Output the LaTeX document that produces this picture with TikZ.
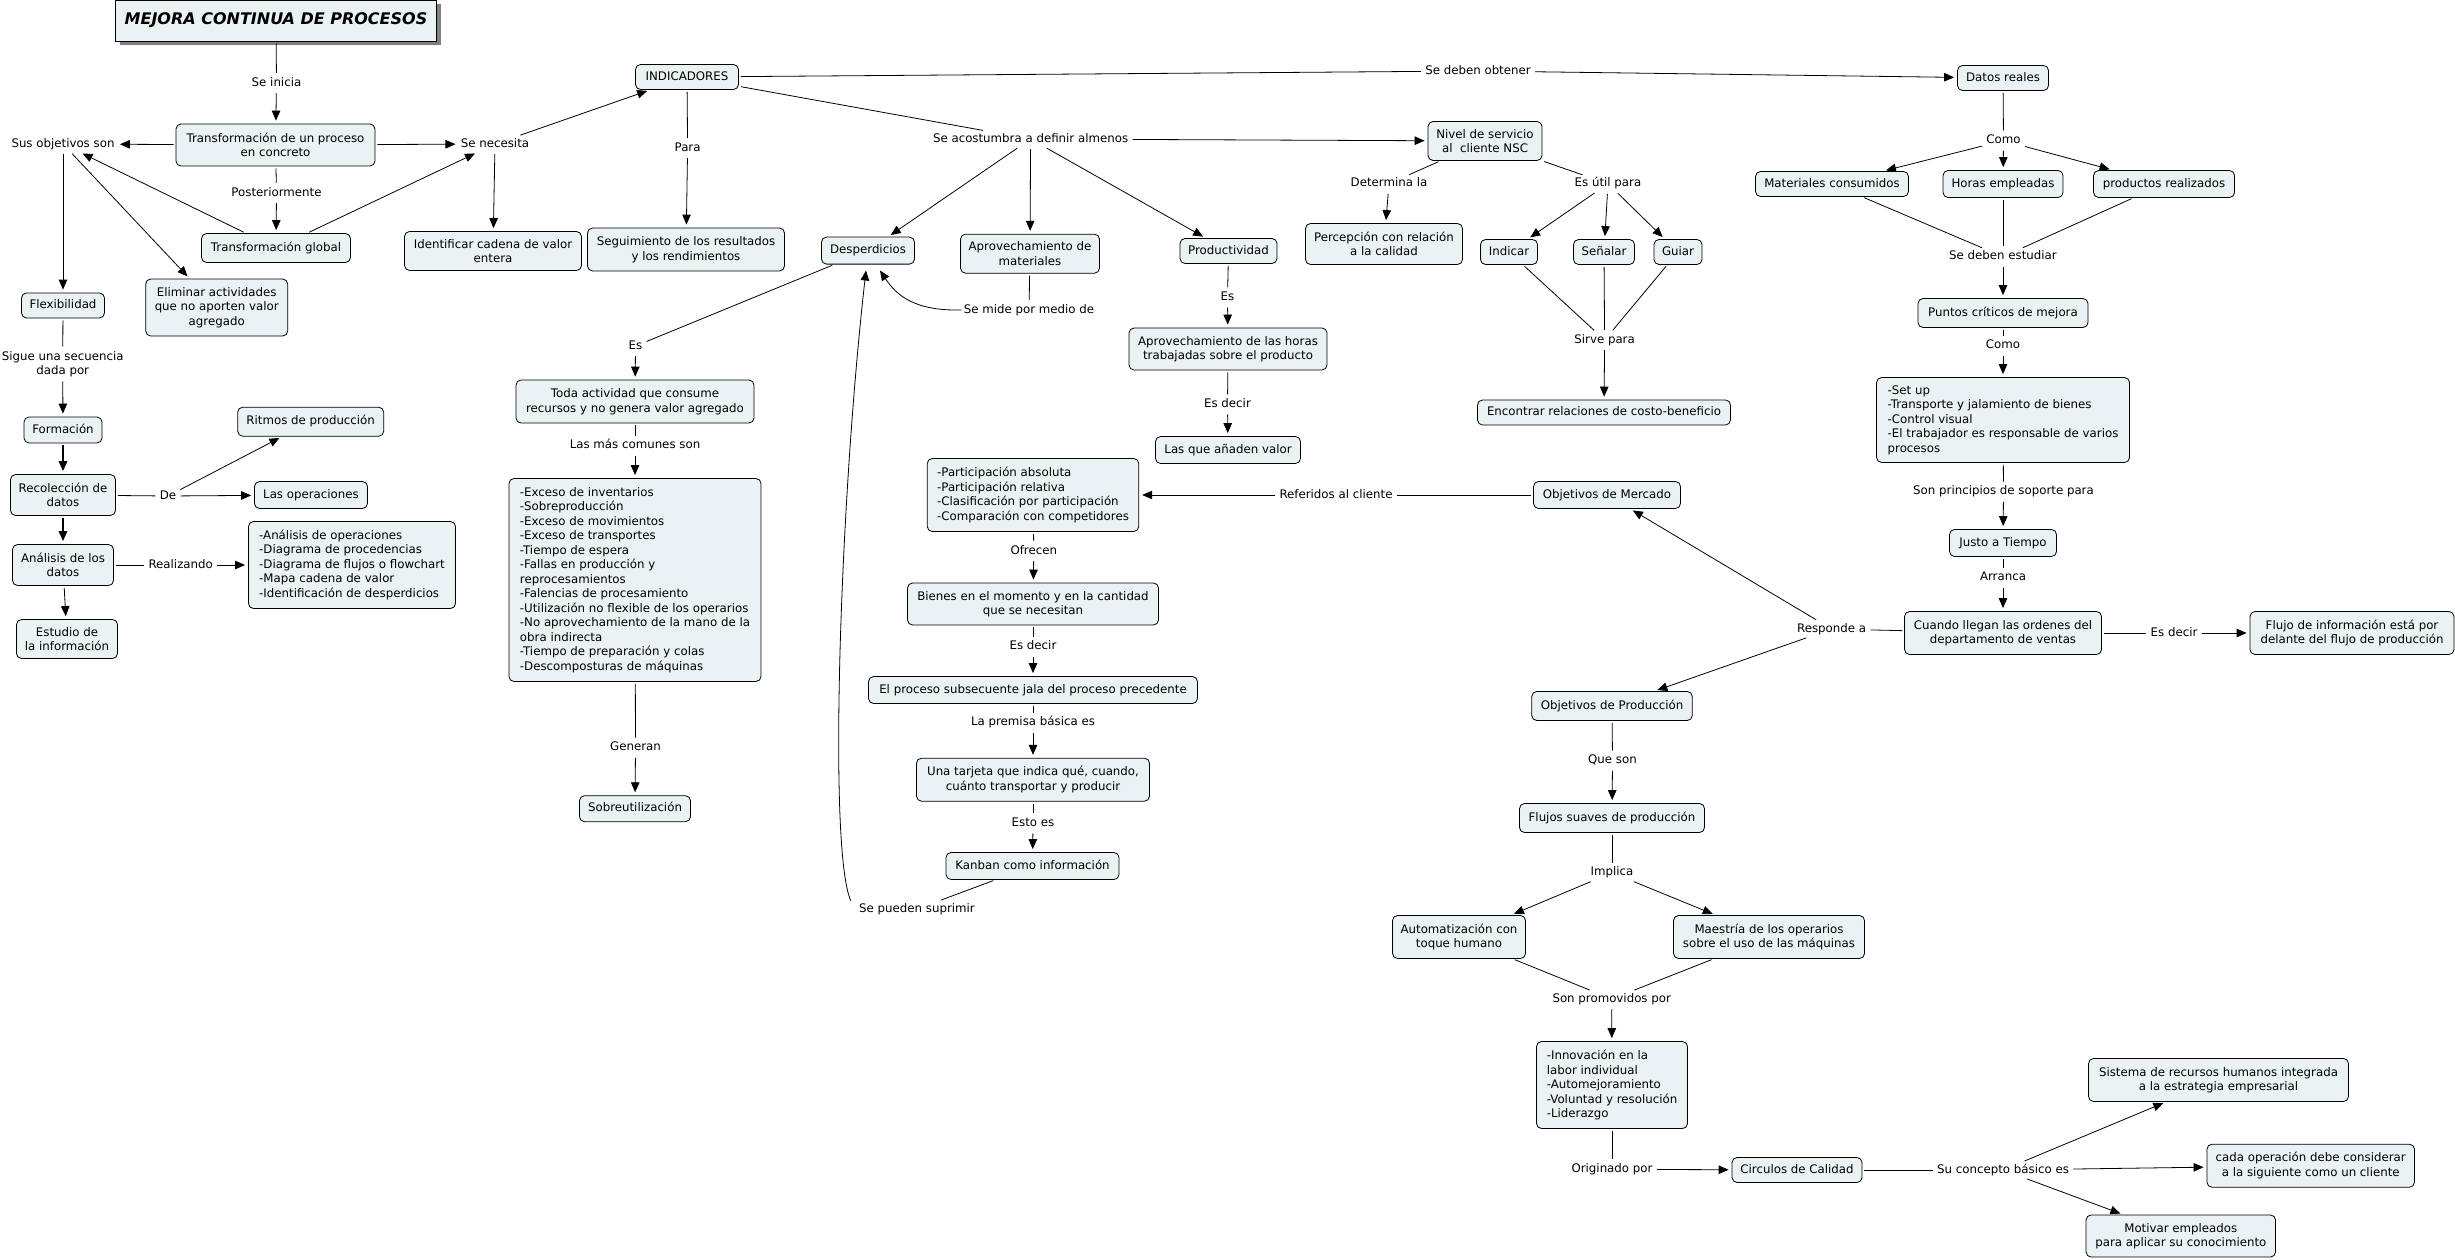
\documentclass[tikz,border=0pt]{standalone}
\usepackage{fontspec}
\setmainfont{DejaVu Sans}
\usetikzlibrary{arrows.meta,shadows,calc}
\definecolor{boxfill}{RGB}{234,242,244}
\newcommand\mapfont{\fontsize{11.8pt}{14.5pt}\selectfont}
\newcommand\titlefont{\fontsize{16pt}{19pt}\selectfont\bfseries\itshape}
\begin{document}
\begin{tikzpicture}[x=1pt,y=-1pt,line width=0.8pt,>={Triangle[length=10pt,width=8.5pt]},
  bx/.style={draw=black, fill=boxfill, rounded corners=5pt, align=center, inner sep=2pt, font=\mapfont},
  bxa/.style={bx, text height=9pt, text depth=2.6pt},
  lb/.style={inner sep=2pt, align=center, font=\mapfont, text height=9pt, text depth=2.6pt},
  lbm/.style={inner sep=2pt, align=center, font=\mapfont},
  sz/.style 2 args={minimum width=#1pt, minimum height=#2pt},
  ar/.style={->, shorten >=3pt, shorten <=2pt},
  ln/.style={shorten <=2pt, shorten >=2pt},
  ttl/.style={draw=black, fill=boxfill, font=\titlefont, inner sep=2pt,
    drop shadow={shadow xshift=4pt, shadow yshift=-4pt, fill=black!50, opacity=1}}
]
\fill[white] (0,0) rectangle (2455,1260);
\useasboundingbox (0,0) rectangle (2455,1260);

% ---------- left part ----------
\node[ttl, sz={321}{41}] (title) at (276,20.5) {MEJORA CONTINUA DE PROCESOS};
\node[lb] (seinicia) at (276.5,83) {Se inicia};
\node[bx, sz={199}{42}] (n1) at (275.5,145) {Transformación de un proceso\\en concreto};
\node[lb] (susobj) at (63,144) {Sus objetivos son};
\node[lb] (senec) at (495,144) {Se necesita};
\node[lb] (poster) at (276.5,193) {Posteriormente};
\node[bxa, sz={149}{29}] (tglobal) at (276,248) {Transformación global};
\node[bxa, sz={83}{25}] (flex) at (63,305.5) {Flexibilidad};
\node[bx, sz={142}{57}] (elim) at (216.7,307.5) {Eliminar actividades\\que no aporten valor\\agregado};
\node[lbm] (sigue) at (62.7,364) {Sigue una secuencia\\dada por};
\node[bxa, sz={78}{26}] (form) at (63,430) {Formación};
\node[bx, sz={105}{41}] (rec) at (63,495) {Recolección de\\datos};
\node[lb] (de) at (168,496) {De};
\node[bxa, sz={146}{29}] (ritmos) at (310.7,421.7) {Ritmos de producción};
\node[bxa, sz={113}{27}] (lasop) at (311,495) {Las operaciones};
\node[bx, sz={101}{41}] (ana) at (63,565) {Análisis de los\\datos};
\node[lb] (realiz) at (180.7,565) {Realizando};
\node[bx, align=left, sz={207}{87}] (analist) at (352,565) {-Análisis de operaciones\\-Diagrama de procedencias\\-Diagrama de flujos o flowchart\\-Mapa cadena de valor\\-Identificación de desperdicios};
\node[bx, sz={101}{39}] (estudio) at (67,639) {Estudio de\\la información};

% ---------- indicadores ----------
\node[bxa, sz={103}{25}] (indic) at (687,77) {INDICADORES};
\node[bx, sz={177}{39}] (identif) at (493,251) {Identificar cadena de valor\\entera};
\node[lb] (para) at (687.6,148) {Para};
\node[bx, sz={197}{43}] (seguim) at (686,249.5) {Seguimiento de los resultados\\y los rendimientos};
\node[lb] (seacost) at (1030.6,139) {Se acostumbra a definir almenos};
\node[bxa, sz={93}{27}] (desp) at (868,250.6) {Desperdicios};
\node[bx, sz={139}{39}] (aprovmat) at (1030,253.7) {Aprovechamiento de\\materiales};
\node[bxa, sz={97}{25}] (produc) at (1228.5,251) {Productividad};
\node[lb] (es1) at (635.5,346) {Es};
\node[bx, sz={238}{43}] (toda) at (635,401.5) {Toda actividad que consume\\recursos y no genera valor agregado};
\node[lb] (lasmas) at (635,445.7) {Las más comunes son};
\node[bx, align=left, sz={252}{203}] (exceso) at (635,580) {-Exceso de inventarios\\-Sobreproducción\\-Exceso de movimientos\\-Exceso de transportes\\-Tiempo de espera\\-Fallas en producción y\\reprocesamientos\\-Falencias de procesamiento\\-Utilización no flexible de los operarios\\-No aprovechamiento de la mano de la\\obra indirecta\\-Tiempo de preparación y colas\\-Descomposturas de máquinas};
\node[lb] (generan) at (635.5,747.7) {Generan};
\node[bxa, sz={111}{26}] (sobre) at (635,808.7) {Sobreutilización};
\node[lb] (semide) at (1029,310) {Se mide por medio de};
\node[lb] (es2) at (1227.5,297.5) {Es};
\node[bx, sz={198}{42}] (aprovhoras) at (1228,349) {Aprovechamiento de las horas\\trabajadas sobre el producto};
\node[lb] (esdecir1) at (1227.5,404.5) {Es decir};
\node[bxa, sz={145}{27}] (lasque) at (1228,450) {Las que añaden valor};
\node[lb] (sepueden) at (917,909) {Se pueden suprimir};

% ---------- kanban column ----------
\node[bx, align=left, sz={211.5}{73}] (particip) at (1033,495) {-Participación absoluta\\-Participación relativa\\-Clasificación por participación\\-Comparación con competidores};
\node[lb] (ofrecen) at (1033.8,551) {Ofrecen};
\node[bx, sz={251}{42}] (bienes) at (1033,604) {Bienes en el momento y en la cantidad\\que se necesitan};
\node[lb] (esdecir2) at (1033,646.7) {Es decir};
\node[bxa, sz={329}{27}] (elproceso) at (1033,690) {El proceso subsecuente jala del proceso precedente};
\node[lb] (premisa) at (1033,722.7) {La premisa básica es};
\node[bx, sz={233}{43}] (tarjeta) at (1033,779.7) {Una tarjeta que indica qué, cuando,\\cuánto transportar y producir};
\node[lb] (estoes) at (1033,823.3) {Esto es};
\node[bxa, sz={173}{27}] (kanban) at (1032.5,866) {Kanban como información};

% ---------- NSC ----------
\node[lb] (sedeben) at (1478,71) {Se deben obtener};
\node[bx, sz={114}{39}] (nivel) at (1485,141) {Nivel de servicio\\al\ \ cliente NSC};
\node[lb] (determina) at (1389,183.7) {Determina la};
\node[bx, sz={157}{41}] (percep) at (1384,244) {Percepción con relación\\a la calidad};
\node[lb] (esutil) at (1608,183.7) {Es útil para};
\node[bxa, sz={57}{25}] (indicar) at (1509,252) {Indicar};
\node[bxa, sz={61}{25}] (senalar) at (1604,252) {Señalar};
\node[bxa, sz={48}{25}] (guiar) at (1678,252) {Guiar};
\node[lb] (sirve) at (1604.6,340) {Sirve para};
\node[bxa, sz={253}{25}] (encontrar) at (1604,412.5) {Encontrar relaciones de costo-beneficio};

% ---------- datos reales ----------
\node[bxa, sz={91}{25}] (datos) at (2003,78) {Datos reales};
\node[lb] (como1) at (2003.5,140.7) {Como};
\node[bxa, sz={153}{25}] (materiales) at (1832,184) {Materiales consumidos};
\node[bxa, sz={120}{27}] (horas) at (2003,184) {Horas empleadas};
\node[bxa, sz={141}{27}] (productos) at (2164,184) {productos realizados};
\node[lb] (sedebenest) at (2003,256.7) {Se deben estudiar};
\node[bxa, sz={170}{29}] (puntos) at (2003,313) {Puntos críticos de mejora};
\node[lb] (como2) at (2003,345.7) {Como};
\node[bx, align=left, sz={253}{85}] (setup) at (2003,420) {-Set up\\-Transporte y jalamiento de bienes\\-Control visual\\-El trabajador es responsable de varios\\procesos};
\node[lb] (sonprinc) at (2003.5,491.7) {Son principios de soporte para};
\node[bxa, sz={107}{27}] (justo) at (2003,543) {Justo a Tiempo};
\node[lb] (arranca) at (2003,577.7) {Arranca};
\node[bx, sz={197}{43}] (cuando) at (2003,633) {Cuando llegan las ordenes del\\departamento de ventas};
\node[lb] (esdecir3) at (2174,633) {Es decir};
\node[bx, sz={204}{43}] (flujoinfo) at (2352,633) {Flujo de información está por\\delante del flujo de producción};
\node[lb] (responde) at (1831.6,629) {Responde a};
\node[bxa, sz={147}{27}] (objmerc) at (1607,495) {Objetivos de Mercado};
\node[lb] (referidos) at (1336,495) {Referidos al cliente};
\node[bxa, sz={160.5}{29}] (objprod) at (1612,706) {Objetivos de Producción};
\node[lb] (queson) at (1612.5,760.7) {Que son};
\node[bxa, sz={185}{29}] (flujos) at (1612,818) {Flujos suaves de producción};
\node[lb] (implica) at (1612,872.7) {Implica};
\node[bx, sz={133}{43}] (automat) at (1459,937) {Automatización con\\toque humano};
\node[bx, sz={191}{43}] (maestria) at (1769,937) {Maestría de los operarios\\sobre el uso de las máquinas};
\node[lb] (sonprom) at (1611.7,999) {Son promovidos por};
\node[bx, align=left, sz={151}{87}] (innov) at (1612,1085) {-Innovación en la\\labor individual\\-Automejoramiento\\-Voluntad y resolución\\-Liderazgo};
\node[lb] (originado) at (1612,1169.3) {Originado por};
\node[bxa, sz={130}{25}] (circulos) at (1797,1170) {Circulos de Calidad};
\node[lb] (suconcepto) at (2003,1170) {Su concepto básico es};
\node[bx, sz={260}{43}] (sistema) at (2218.5,1080) {Sistema de recursos humanos integrada\\a la estrategia empresarial};
\node[bx, sz={207.5}{43}] (cadaop) at (2310.7,1165.7) {cada operación debe considerar\\a la siguiente como un cliente};
\node[bx, sz={189.5}{42}] (motivar) at (2180.8,1236) {Motivar empleados\\para aplicar su conocimiento};

% ---------- connectors ----------
\draw[ln] (title) -- (seinicia);
\draw[ar] (seinicia) -- (n1);
\draw[ar] (n1) -- (susobj);
\draw[ar] (n1) -- (senec);
\draw[ln] (n1) -- (poster);
\draw[ar] (poster) -- (tglobal);
\draw[ar] (tglobal) -- (susobj);
\draw[ar] (tglobal) -- (senec);
\draw[ar] (susobj) -- (flex);
\draw[ar] (susobj) -- (elim);
\draw[ln] (flex) -- (sigue);
\draw[ar] (sigue) -- (form);
\draw[ar, line width=1.6pt] (form) -- (rec);
\draw[ar, line width=1.6pt] (rec) -- (ana);
\draw[ln] (rec) -- (de);
\draw[ar] (de) -- (ritmos);
\draw[ar] (de) -- (lasop);
\draw[ln] (ana) -- (realiz);
\draw[ar] (realiz) -- (analist);
\draw[ar] (ana) -- (estudio);

\draw[ar] (senec) -- (indic);
\draw[ar] (senec) -- (identif);
\draw[ln] (indic) -- (para);
\draw[ar] (para) -- (seguim);
\draw[ln] (indic) -- (seacost);
\draw[ar] (seacost) -- (desp);
\draw[ar] (seacost) -- (aprovmat);
\draw[ar] (seacost) -- (produc);
\draw[ar] (seacost) -- (nivel);
\draw[ln] (indic) -- (sedeben);
\draw[ar] (sedeben) -- (datos);

\draw[ln] (desp) -- (es1);
\draw[ar] (es1) -- (toda);
\draw[ln] (toda) -- (lasmas);
\draw[ar] (lasmas) -- (exceso);
\draw[ln] (exceso) -- (generan);
\draw[ar] (generan) -- (sobre);
\draw[ln] (aprovmat) -- (semide);
\draw[->] (semide.west) .. controls (915,311) and (897,296) .. ([xshift=12pt,yshift=-6pt]desp.south);
\draw[ln] (produc) -- (es2);
\draw[ar] (es2) -- (aprovhoras);
\draw[ln] (aprovhoras) -- (esdecir1);
\draw[ar] (esdecir1) -- (lasque);

\draw[ln] (nivel) -- (determina);
\draw[ar] (determina) -- (percep);
\draw[ln] (nivel) -- (esutil);
\draw[ar] (esutil) -- (indicar);
\draw[ar] (esutil) -- (senalar);
\draw[ar] (esutil) -- (guiar);
\draw[ln] (indicar) -- (sirve);
\draw[ln] (senalar) -- (sirve);
\draw[ln] (guiar) -- (sirve);
\draw[ar] (sirve) -- (encontrar);

\draw[ln] (datos) -- (como1);
\draw[ar] (como1) -- (materiales);
\draw[ar] (como1) -- (horas);
\draw[ar] (como1) -- (productos);
\draw[ln] (materiales) -- (sedebenest);
\draw[ln] (horas) -- (sedebenest);
\draw[ln] (productos) -- (sedebenest);
\draw[ar] (sedebenest) -- (puntos);
\draw[ln] (puntos) -- (como2);
\draw[ar] (como2) -- (setup);
\draw[ln] (setup) -- (sonprinc);
\draw[ar] (sonprinc) -- (justo);
\draw[ln] (justo) -- (arranca);
\draw[ar] (arranca) -- (cuando);
\draw[ln] (cuando) -- (esdecir3);
\draw[ar] (esdecir3) -- (flujoinfo);
\draw[ln] (cuando) -- (responde);
\draw[ar] (responde) -- (objmerc);
\draw[ar] (responde) -- (objprod);
\draw[ln] (objmerc) -- (referidos);
\draw[ar] (referidos) -- (particip);

\draw[ln] (particip) -- (ofrecen);
\draw[ar] (ofrecen) -- (bienes);
\draw[ln] (bienes) -- (esdecir2);
\draw[ar] (esdecir2) -- (elproceso);
\draw[ln] (elproceso) -- (premisa);
\draw[ar] (premisa) -- (tarjeta);
\draw[ln] (tarjeta) -- (estoes);
\draw[ar] (estoes) -- (kanban);
\draw[ln] (kanban) -- (sepueden);
\draw[->] ([xshift=-6pt]sepueden.north west) .. controls (828,850) and (840,500) .. ([xshift=-2pt,yshift=-6pt]desp.south);

\draw[ln] (objprod) -- (queson);
\draw[ar] (queson) -- (flujos);
\draw[ln] (flujos) -- (implica);
\draw[ar] (implica) -- (automat);
\draw[ar] (implica) -- (maestria);
\draw[ln] (automat) -- (sonprom);
\draw[ln] (maestria) -- (sonprom);
\draw[ar] (sonprom) -- (innov);
\draw[ln] (innov) -- (originado);
\draw[ar] (originado) -- (circulos);
\draw[ln] (circulos) -- (suconcepto);
\draw[ar] (suconcepto) -- (sistema);
\draw[ar] (suconcepto) -- (cadaop);
\draw[ar] (suconcepto) -- (motivar);
\end{tikzpicture}
\end{document}
